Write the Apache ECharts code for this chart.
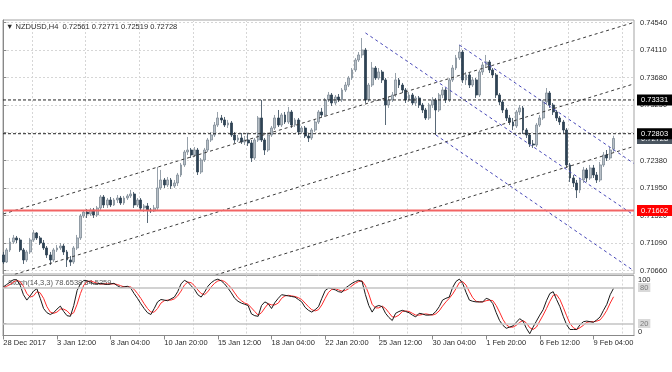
<!DOCTYPE html>
<html><head><meta charset="utf-8">
<script src="https://cdn.jsdelivr.net/npm/echarts@6/dist/echarts.min.js"></script>
<style>html,body{margin:0;padding:0;background:#fff}#c{width:672px;height:372px}</style>
</head><body><div id="c"></div>
<script>
// ---------- DATA ----------
const symbolName = 'NZDUSD,H4';
const lastQuote = ['0.72561', '0.72771', '0.72519', '0.72728'];
const stochName = 'Stoch(14,3,3)';
const stochLast = ['78.6538', '64.5259'];

// H4 candles: [open, close, low, high]
const candles = [
[0.70906,0.70796,0.70765,0.70953],[0.70796,0.70984,0.70781,0.71015],[0.70984,0.71109,0.70953,0.71172],[0.71109,0.71172,0.71078,0.71219],
[0.71172,0.71140,0.71093,0.71203],[0.71140,0.70984,0.70953,0.71172],[0.70984,0.70828,0.70765,0.71015],[0.70828,0.70953,0.70796,0.70984],
[0.70953,0.71140,0.70921,0.71172],[0.71140,0.71250,0.71109,0.71297],[0.71250,0.71172,0.71140,0.71265],[0.71172,0.71093,0.71062,0.71203],
[0.71093,0.71015,0.70984,0.71140],[0.71015,0.70906,0.70859,0.71046],[0.70906,0.70828,0.70749,0.70953],[0.70828,0.70984,0.70796,0.71015],
[0.70984,0.71015,0.70953,0.71062],[0.71015,0.71046,0.70984,0.71093],[0.71046,0.70953,0.70906,0.71078],[0.70953,0.70828,0.70718,0.70984],
[0.70828,0.70796,0.70734,0.70890],[0.70796,0.71015,0.70765,0.71046],[0.71015,0.71172,0.70984,0.71219],[0.71172,0.71516,0.71140,0.71547],
[0.71516,0.71578,0.71484,0.71610],[0.71578,0.71547,0.71484,0.71625],[0.71547,0.71610,0.71516,0.71641],[0.71610,0.71531,0.71484,0.71641],
[0.71531,0.71641,0.71500,0.71672],[0.71641,0.71813,0.71610,0.71844],[0.71813,0.71688,0.71641,0.71844],[0.71688,0.71766,0.71641,0.71797],
[0.71766,0.71688,0.71656,0.71813],[0.71688,0.71766,0.71672,0.71797],[0.71766,0.71797,0.71719,0.71844],[0.71797,0.71719,0.71688,0.71829],
[0.71719,0.71797,0.71688,0.71829],[0.71797,0.71829,0.71766,0.71860],[0.71829,0.71860,0.71797,0.71923],[0.71860,0.71688,0.71641,0.71891],
[0.71688,0.71766,0.71656,0.71797],[0.71766,0.71641,0.71610,0.71797],[0.71641,0.71672,0.71578,0.71703],[0.71672,0.71610,0.71406,0.71719],
[0.71610,0.71594,0.71563,0.71641],[0.71594,0.71641,0.71578,0.71688],[0.71641,0.71954,0.71610,0.72283],[0.71954,0.72079,0.71923,0.72236],
[0.72079,0.72001,0.71954,0.72110],[0.72001,0.72079,0.71969,0.72126],[0.72079,0.71985,0.71938,0.72110],[0.71985,0.72032,0.71954,0.72079],
[0.72032,0.72157,0.71985,0.72189],[0.72157,0.72314,0.72126,0.72345],[0.72314,0.72517,0.72283,0.72548],[0.72517,0.72548,0.72470,0.72752],
[0.72548,0.72470,0.72423,0.72580],[0.72470,0.72548,0.72439,0.72595],[0.72548,0.72204,0.72157,0.72580],[0.72204,0.72392,0.72173,0.72423],
[0.72392,0.72548,0.72361,0.72580],[0.72548,0.72705,0.72517,0.72736],[0.72705,0.72783,0.72673,0.72830],[0.72783,0.72939,0.72752,0.72986],
[0.72939,0.73049,0.72908,0.73143],[0.73049,0.73018,0.72971,0.73096],[0.73018,0.72939,0.72908,0.73065],[0.72939,0.72971,0.72892,0.73018],
[0.72971,0.72783,0.72752,0.73002],[0.72783,0.72705,0.72658,0.72830],[0.72705,0.72736,0.72673,0.72783],[0.72736,0.72673,0.72642,0.72814],
[0.72673,0.72705,0.72626,0.72767],[0.72705,0.72658,0.72611,0.72814],[0.72658,0.72423,0.72361,0.72705],[0.72423,0.72705,0.72392,0.72736],
[0.72705,0.73049,0.72673,0.73080],[0.73049,0.72705,0.72673,0.73331],[0.72705,0.72548,0.72470,0.72736],[0.72548,0.72783,0.72517,0.72814],
[0.72783,0.72892,0.72752,0.72924],[0.72892,0.73049,0.72861,0.73096],[0.73049,0.72939,0.72908,0.73174],[0.72939,0.73096,0.72908,0.73127],
[0.73096,0.72986,0.72955,0.73143],[0.72986,0.73143,0.72955,0.73221],[0.73143,0.72939,0.72892,0.73174],[0.72939,0.73018,0.72908,0.73049],
[0.73018,0.72830,0.72783,0.73049],[0.72830,0.72892,0.72799,0.72924],[0.72892,0.72767,0.72736,0.72924],[0.72767,0.72736,0.72673,0.72799],
[0.72736,0.72861,0.72705,0.72892],[0.72861,0.72986,0.72830,0.73018],[0.72986,0.73143,0.72955,0.73174],[0.73143,0.73096,0.73065,0.73206],
[0.73096,0.73331,0.73065,0.73362],[0.73331,0.73409,0.73299,0.73456],[0.73409,0.73284,0.73237,0.73440],[0.73284,0.73377,0.73252,0.73409],
[0.73377,0.73331,0.73299,0.73424],[0.73331,0.73487,0.73299,0.73518],[0.73487,0.73565,0.73456,0.73612],[0.73565,0.73675,0.73534,0.73706],
[0.73675,0.73800,0.73644,0.73831],[0.73800,0.73956,0.73769,0.73988],[0.73956,0.74035,0.73925,0.74081],[0.74035,0.74113,0.73988,0.74300],
[0.74113,0.73331,0.73284,0.74144],[0.73331,0.73565,0.73299,0.73597],[0.73565,0.73831,0.73534,0.73925],[0.73831,0.73675,0.73644,0.73862],
[0.73675,0.73769,0.73644,0.73831],[0.73769,0.73644,0.73597,0.73800],[0.73644,0.73252,0.72939,0.73675],[0.73252,0.73331,0.73206,0.73377],
[0.73331,0.73409,0.73299,0.73456],[0.73409,0.73644,0.73377,0.73753],[0.73644,0.73565,0.73518,0.73675],[0.73565,0.73487,0.73440,0.73597],
[0.73487,0.73331,0.73284,0.73518],[0.73331,0.73409,0.73299,0.73456],[0.73409,0.73284,0.73252,0.73440],[0.73284,0.73362,0.73237,0.73393],
[0.73362,0.73252,0.73206,0.73393],[0.73252,0.73174,0.73127,0.73284],[0.73174,0.73049,0.73018,0.73206],[0.73049,0.73252,0.73018,0.73284],
[0.73252,0.73331,0.73206,0.73377],[0.73331,0.73174,0.72783,0.73362],[0.73174,0.73409,0.73143,0.73440],[0.73409,0.73487,0.73362,0.73534],
[0.73487,0.73331,0.73284,0.73518],[0.73331,0.73644,0.73299,0.73675],[0.73644,0.73831,0.73612,0.73878],[0.73831,0.73988,0.73800,0.74035],
[0.73988,0.74081,0.73956,0.74191],[0.74081,0.73644,0.73597,0.74113],[0.73644,0.73722,0.73565,0.73769],[0.73722,0.73565,0.73518,0.73753],
[0.73565,0.73644,0.73534,0.73690],[0.73644,0.73409,0.73362,0.73675],[0.73409,0.73769,0.73377,0.73800],[0.73769,0.73878,0.73722,0.73925],
[0.73878,0.73925,0.73831,0.74035],[0.73925,0.73800,0.73753,0.73956],[0.73800,0.73722,0.73675,0.73831],[0.73722,0.73409,0.73362,0.73753],
[0.73409,0.73299,0.73252,0.73440],[0.73299,0.73174,0.73127,0.73331],[0.73174,0.73049,0.73002,0.73206],[0.73049,0.72986,0.72939,0.73096],
[0.72986,0.72924,0.72861,0.73049],[0.72924,0.73143,0.72892,0.73174],[0.73143,0.73206,0.73096,0.73252],[0.73206,0.72861,0.72799,0.73237],
[0.72861,0.72783,0.72736,0.72892],[0.72783,0.72642,0.72595,0.72814],[0.72642,0.72626,0.72580,0.72705],[0.72626,0.72939,0.72595,0.72971],
[0.72939,0.73049,0.72908,0.73096],[0.73049,0.73299,0.73018,0.73331],[0.73299,0.73440,0.73252,0.73518],[0.73440,0.73252,0.73206,0.73471],
[0.73252,0.73143,0.73096,0.73284],[0.73143,0.73049,0.73002,0.73174],[0.73049,0.72986,0.72939,0.73080],[0.72986,0.72861,0.72814,0.73018],
[0.72861,0.72314,0.72267,0.72892],[0.72314,0.72110,0.72048,0.72345],[0.72110,0.72032,0.71969,0.72157],[0.72032,0.71923,0.71797,0.72079],
[0.71923,0.72079,0.71876,0.72110],[0.72079,0.72236,0.72032,0.72283],[0.72236,0.72110,0.72048,0.72267],[0.72110,0.72267,0.72079,0.72314],
[0.72267,0.72157,0.72110,0.72314],[0.72157,0.72079,0.72032,0.72204],[0.72079,0.72314,0.72048,0.72361],[0.72314,0.72470,0.72283,0.72517],
[0.72470,0.72423,0.72376,0.72548],[0.72423,0.72548,0.72392,0.72595],[0.72561,0.72728,0.72519,0.72771]
];

// Stochastic %K (black) and %D (red)
const stochK = [81,85,89,93,93,84,68,59,66,74,78,62,45,38,35,38,44,49,40,33,
32,50,75,86,92,91,89,86,86,87,86,85,86,87,83,80,81,82,79,70,
62,53,45,38,35,45,56,60,59,58,61,64,73,86,92,89,83,77,68,64,
72,82,88,92,94,91,86,79,71,62,57,54,52,50,36,33,32,50,56,53,
45,55,62,68,67,66,65,64,60,56,47,42,39,43,48,62,75,79,78,76,
73,72,79,83,87,90,92,90,68,50,39,48,50,48,37,30,25,37,40,42,
40,38,34,31,37,36,34,34,35,40,48,59,62,64,80,90,94,87,72,59,
57,56,56,56,62,60,53,38,25,17,12,14,16,22,28,24,12,3,14,24,
34,43,58,70,73,60,48,32,18,10,10,10,18,23,24,23,22,26,31,42,
52,68,78.65];
const stochD = [80,82,85,89,92,90,82,70,64,66,73,71,62,48,39,37,39,44,44,41,
35,38,52,70,84,90,91,89,87,86,86,86,86,86,85,83,81,81,81,77,
70,62,53,45,39,39,45,54,58,59,59,61,66,74,84,89,88,83,76,70,
68,73,81,87,91,92,90,85,79,71,63,58,54,52,46,40,34,38,46,53,
51,51,54,62,66,67,66,65,63,60,54,48,43,41,43,51,62,72,77,78,
76,74,75,78,83,87,90,91,83,69,52,46,46,49,45,38,31,31,34,40,
41,40,37,34,34,35,36,35,34,36,41,49,56,62,69,78,88,90,84,73,
63,57,56,56,58,59,58,50,39,27,18,14,14,17,22,25,21,13,10,14,
24,34,45,57,67,68,60,47,33,20,13,10,13,17,22,23,23,24,26,33,
42,54,64.53];

// axis ticks
const priceTicks = [0.70660, 0.71090, 0.71520, 0.71950, 0.72380, 0.72820, 0.73250, 0.73680, 0.74110, 0.74540];
const timeLabels = ['28 Dec 2017', '3 Jan 12:00', '8 Jan 04:00', '10 Jan 20:00', '15 Jan 12:00', '18 Jan 04:00',
  '22 Jan 20:00', '25 Jan 12:00', '30 Jan 04:00', '1 Feb 20:00', '6 Feb 12:00', '9 Feb 04:00'];
const timeLabelBars = [0, 16, 32, 48, 64, 80, 96, 112, 128, 144, 160, 176];
const timeGridBars = [8.5, 24.5, 40.5, 56.5, 72.5, 88.5, 104.5, 120.5, 136.5, 152.5, 168.5, 184.5];
const stochRange = [0, 100];
const stochLevels = [20, 80];

// drawn objects: [barIndex, price] pairs
const blackChannel = [
  [[0, 0.71547], [188, 0.74543]],
  [[0, 0.70547], [188, 0.73581]],
  [[0, 0.69571], [188, 0.72603]]
];
const blueChannel = [
  [[108, 0.74380], [188, 0.71531]],
  [[136, 0.74191], [188, 0.72340]],
  [[129, 0.72783], [188, 0.70660]]
];
const hLevels = [0.73331, 0.72803];
const redLevel = 0.71602;
const bidPrice = 0.72728;

// ---------- CHART ----------
const FONT = '"Liberation Sans", Arial, sans-serif';
const FS = 7.5;
const TXT = '#2b2b2b';
const GRIDC = '#d6d6d6';
const X_MIN = -0.1, X_MAX = 188.1;
const Y_MIN = 0.70608, Y_MAX = 0.74582;

const candleData = candles.map((r, i) => [i, r[0], r[1], r[2], r[3]]);
const kData = stochK.map((v, i) => [i, v]);
const dData = stochD.map((v, i) => [i, v]);

// a horizontal price level drawn as a two-point line with a price tag at its right end
function levelSeries(price, lineStyle, bg, z) {
  return {
    type: 'line', xAxisIndex: 0, yAxisIndex: 0, symbol: 'none', silent: true, z: z,
    data: [[X_MIN, price], [X_MAX, price]],
    lineStyle: lineStyle,
    endLabel: {show: true, distance: 3, color: '#ffffff', backgroundColor: bg,
      padding: [2, 6, 1, 4], fontSize: FS, fontFamily: FONT,
      formatter: p => p.value[1].toFixed(5)}
  };
}

const series = [{
  type: 'candlestick', xAxisIndex: 0, yAxisIndex: 0, data: candleData, barWidth: 2.4, z: 2,
  itemStyle: {color: '#b7bfc7', color0: '#2e4254', borderColor: '#7d8a96', borderColor0: '#2e4254', borderWidth: 0.8}
}];
blackChannel.forEach(seg => series.push({
  type: 'line', xAxisIndex: 0, yAxisIndex: 0, data: seg, symbol: 'none', silent: true, z: 3,
  lineStyle: {color: '#3a3a3a', width: 1, type: [3, 3]}
}));
blueChannel.forEach(seg => series.push({
  type: 'line', xAxisIndex: 0, yAxisIndex: 0, data: seg, symbol: 'none', silent: true, z: 3,
  lineStyle: {color: '#4848b8', width: 1, type: [3, 3]}
}));
series.push(levelSeries(bidPrice, {opacity: 0}, '#4a5560', 4));
series.push(levelSeries(hLevels[0], {color: '#222', width: 1, type: [3, 2]}, '#000000', 5));
series.push(levelSeries(hLevels[1], {color: '#222', width: 1, type: [3, 2]}, '#000000', 5));
series.push(levelSeries(redLevel, {color: '#f26464', width: 2, type: 'solid'}, '#ff0000', 5));

series.push({
  type: 'line', xAxisIndex: 1, yAxisIndex: 1, data: kData, symbol: 'none', silent: true, z: 4,
  lineStyle: {color: '#1a1a1a', width: 1},
  markLine: {silent: true, symbol: ['none', 'none'], label: {show: false}, animation: false,
    lineStyle: {color: '#c3c3c3', width: 1.5, type: 'solid'},
    data: stochLevels.map(v => ({yAxis: v}))}
});
series.push({
  type: 'line', xAxisIndex: 1, yAxisIndex: 1, data: dData, symbol: 'none', silent: true, z: 3,
  lineStyle: {color: '#ff2a2a', width: 1}
});

const stochEdgeAxis = (val, vAlign) => ({
  gridIndex: 1, type: 'value', position: 'right', min: stochRange[0], max: stochRange[1],
  axisLine: {show: false}, axisTick: {show: false, customValues: [val]}, splitLine: {show: false},
  axisLabel: {show: true, customValues: [val], margin: 4, fontSize: FS, color: TXT, fontFamily: FONT,
    verticalAlign: vAlign, showMinLabel: true, showMaxLabel: true, formatter: v => String(v)}
});

const option = {
  animation: false,
  backgroundColor: '#ffffff',
  textStyle: {fontFamily: FONT},
  title: [
    {text: '\u25BC ' + symbolName + '  ' + lastQuote.join(' '), left: 6, top: 23, padding: 0,
     textStyle: {fontSize: FS, fontWeight: 'normal', color: TXT, fontFamily: FONT}},
    {text: stochName + ' ' + stochLast.join(' '), left: 8, top: 279, padding: 0, z: 1,
     textStyle: {fontSize: FS, fontWeight: 'normal', color: '#555', fontFamily: FONT}}
  ],
  grid: [
    {left: 3, right: 38, top: 20, height: 254, show: true, borderColor: '#a3a3a3', borderWidth: 1, outerBoundsMode: 'none'},
    {left: 3, right: 38, top: 275.5, height: 60, show: true, borderColor: '#a3a3a3', borderWidth: 1, outerBoundsMode: 'none'}
  ],
  xAxis: [
    {gridIndex: 0, type: 'value', min: X_MIN, max: X_MAX,
     axisLine: {show: false}, axisLabel: {show: false},
     axisTick: {show: false, customValues: timeGridBars},
     splitLine: {show: true, lineStyle: {color: GRIDC, type: [2, 2], width: 1}}},
    {gridIndex: 1, type: 'value', position: 'bottom', min: X_MIN, max: X_MAX,
     axisLine: {show: true, lineStyle: {color: '#888'}},
     axisTick: {show: true, length: 4, customValues: timeLabelBars, lineStyle: {color: '#888'}},
     axisLabel: {show: true, customValues: timeLabelBars, align: 'left', margin: 3, fontSize: FS, color: TXT, fontFamily: FONT,
       formatter: v => timeLabels[timeLabelBars.indexOf(Math.round(v))] || ''},
     splitLine: {show: false}},
    {gridIndex: 1, type: 'value', position: 'top', min: X_MIN, max: X_MAX,
     axisLine: {show: false}, axisLabel: {show: false},
     axisTick: {show: false, customValues: timeGridBars},
     splitLine: {show: true, lineStyle: {color: GRIDC, type: [2, 2], width: 1}}}
  ],
  yAxis: [
    {gridIndex: 0, type: 'value', position: 'right', min: Y_MIN, max: Y_MAX, scale: true,
     axisLine: {show: true, lineStyle: {color: '#888'}},
     axisTick: {show: true, length: 3, customValues: priceTicks, lineStyle: {color: '#888'}},
     axisLabel: {show: true, customValues: priceTicks, margin: 6, fontSize: FS, color: TXT, fontFamily: FONT,
       showMinLabel: true, showMaxLabel: true, formatter: v => v.toFixed(5)},
     splitLine: {show: true, lineStyle: {color: GRIDC, type: [2, 2], width: 1}}},
    {gridIndex: 1, type: 'value', position: 'right', min: stochRange[0], max: stochRange[1],
     axisLine: {show: true, lineStyle: {color: '#888'}},
     axisTick: {show: true, length: 3, customValues: stochLevels, lineStyle: {color: '#888'}},
     axisLabel: {show: true, customValues: stochLevels, margin: 4, fontSize: FS, color: '#7a7a7a', fontFamily: FONT,
       backgroundColor: '#d9d9d9', padding: [1, 2, 0, 2], formatter: v => String(v)},
     splitLine: {show: false}},
    stochEdgeAxis(stochRange[1], 'top'),
    stochEdgeAxis(stochRange[0], 'bottom')
  ],
  series: series
};
const chart = echarts.init(document.getElementById('c'), null, {renderer: 'canvas'});
chart.setOption(option);
</script>
</body></html>
